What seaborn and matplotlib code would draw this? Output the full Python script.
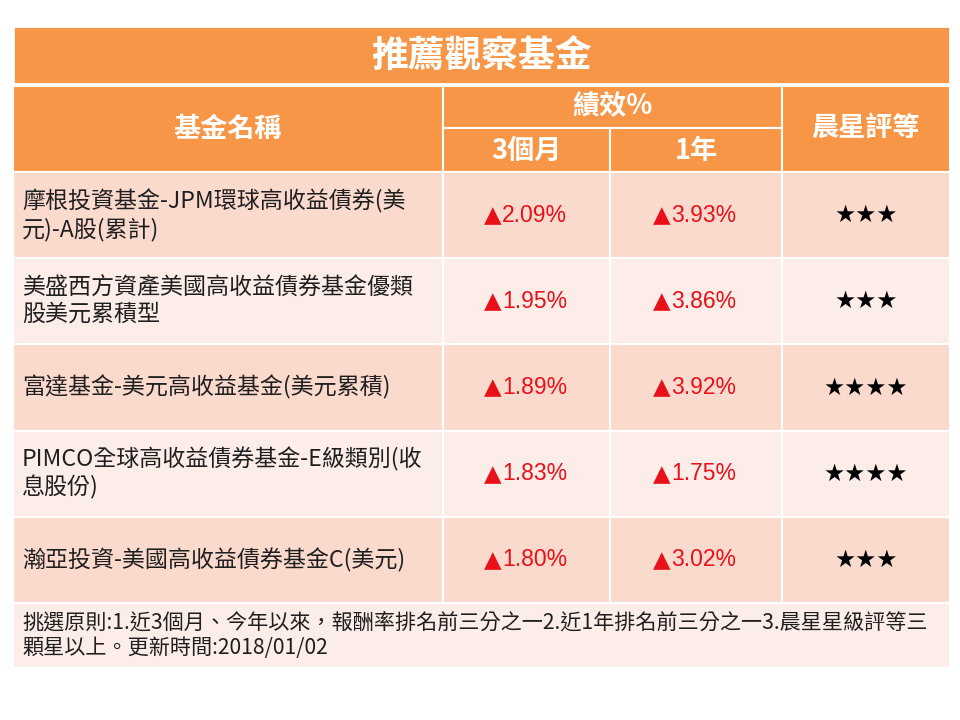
import matplotlib
matplotlib.use("Agg")
import matplotlib.pyplot as plt
from matplotlib.patches import Rectangle
import seaborn as sns

# ---- data ----
title = "推薦觀察基金"
col_header_name = "基金名稱"
col_header_perf = "績效%"
col_header_3m = "3個月"
col_header_1y = "1年"
col_header_star = "晨星評等"
fund_names = [
    "摩根投資基金-JPM環球高收益債券(美\n元)-A股(累計)",
    "美盛西方資產美國高收益債券基金優類\n股美元累積型",
    "富達基金-美元高收益基金(美元累積)",
    "PIMCO全球高收益債券基金-E級類別(收\n息股份)",
    "瀚亞投資-美國高收益債券基金C(美元)",
]
ret_3m = [2.09, 1.95, 1.89, 1.83, 1.80]
ret_1y = [3.93, 3.86, 3.92, 1.75, 3.02]
stars = [3, 3, 4, 4, 3]
footnote = ("挑選原則:1.近3個月、今年以來，報酬率排名前三分之一2.近1年排名前三分之一3.晨星星級評等三\n"
            "顆星以上。更新時間:2018/01/02")

# ---- style ----
sns.set_theme(style="white")
CJK = ["Noto Sans CJK TC", "DejaVu Sans"]
LAT = ["Liberation Sans", "DejaVu Sans"]
plt.rcParams["font.family"] = CJK

ORANGE = "#F79646"
BAND_DARK = "#FBDACE"
BAND_LIGHT = "#FDEDE8"
WHITE = "white"
RED = "#E8111A"
TXT = "#1f1f1f"

fig = plt.figure(figsize=(9.6, 7.2), dpi=100)
ax = fig.add_axes([0, 0, 1, 1])
ax.set_xlim(0, 960)
ax.set_ylim(720, 0)
ax.axis("off")

col_edges = [13, 443, 610, 782, 950]
title_top, title_bot = 26, 84
head_top, head_mid, head_bot = 86, 128, 172
row_h = 86.2
foot_h = 65

def rect(x0, y0, x1, y1, color, lw=1.5):
    ax.add_patch(Rectangle((x0, y0), x1 - x0, y1 - y0, facecolor=color,
                           edgecolor=WHITE, linewidth=lw))

# title
rect(col_edges[0], title_top, col_edges[-1], title_bot, ORANGE, lw=2)
ax.text((col_edges[0] + col_edges[-1]) / 2, (title_top + title_bot) / 2 + 1, title,
        color="white", fontsize=26.5, fontweight="bold", ha="center", va="center")

# header
rect(col_edges[0], head_top, col_edges[1], head_bot, ORANGE)
rect(col_edges[1], head_top, col_edges[3], head_mid, ORANGE)
rect(col_edges[1], head_mid, col_edges[2], head_bot, ORANGE)
rect(col_edges[2], head_mid, col_edges[3], head_bot, ORANGE)
rect(col_edges[3], head_top, col_edges[4], head_bot, ORANGE)
hkw = dict(color="white", fontsize=19.5, fontweight="bold", ha="center", va="center")
ax.text((col_edges[0] + col_edges[1]) / 2, 129, col_header_name, **hkw)
ax.text((col_edges[1] + col_edges[3]) / 2, 106, col_header_perf, **hkw)
ax.text((col_edges[1] + col_edges[2]) / 2, 151, col_header_3m, **hkw)
ax.text((col_edges[2] + col_edges[3]) / 2, 151, col_header_1y, **hkw)
ax.text((col_edges[3] + col_edges[4]) / 2, 128, col_header_star, **hkw)

# body rows
for i, (name, r3, r1, s) in enumerate(zip(fund_names, ret_3m, ret_1y, stars)):
    y0 = head_bot + i * row_h
    y1 = y0 + row_h
    yc = (y0 + y1) / 2
    color = BAND_DARK if i % 2 == 0 else BAND_LIGHT
    for c in range(4):
        rect(col_edges[c], y0, col_edges[c + 1], y1, color)
    ax.text(col_edges[0] + 9, yc, name, color=TXT, fontsize=16.6,
            ha="left", va="center", linespacing=1.2)
    for c, v in ((1, r3), (2, r1)):
        xc = (col_edges[c] + col_edges[c + 1]) / 2
        split = xc - 25
        ax.text(split, yc + 0.5, "▲", color=RED, fontsize=16.5, ha="right",
                va="center", family=["DejaVu Sans"])
        ax.text(split + 0.5, yc, f"{v:.2f}%", color=RED, fontsize=16.5,
                ha="left", va="center", family=LAT)
    ax.text((col_edges[3] + col_edges[4]) / 2, yc, "★" * s, color="black",
            fontsize=17, ha="center", va="center", family=["DejaVu Sans"])

# footnote
fy0 = head_bot + len(fund_names) * row_h
rect(col_edges[0], fy0, col_edges[-1], fy0 + foot_h, BAND_LIGHT)
ax.text(col_edges[0] + 9, fy0 + foot_h / 2, footnote, color=TXT, fontsize=15.2,
        ha="left", va="center", linespacing=1.2)

fig.savefig("out.png", dpi=100, facecolor="white")
